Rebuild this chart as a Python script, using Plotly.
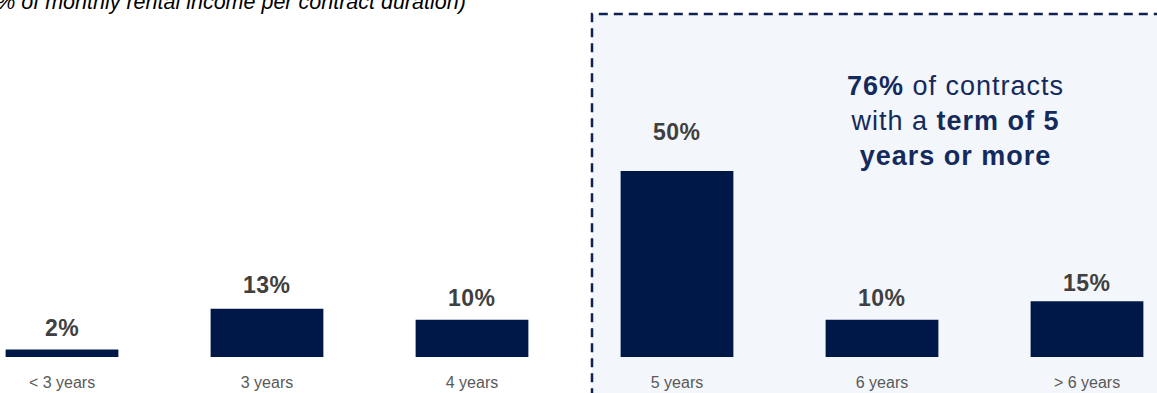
import plotly.graph_objects as go

categories = ["< 3 years", "3 years", "4 years", "5 years", "6 years", "> 6 years"]
values = [2, 13, 10, 50, 10, 15]
value_labels = ["2%", "13%", "10%", "50%", "10%", "15%"]
title_text = "(% of monthly rental income per contract duration)"
callout_lines = ["<b>76%</b> of contracts", "with a <b>term of 5</b>", "<b>years or more</b>"]

# label offsets above bar tops (pixels) - styling only
label_shift = [22, 24, 22, 39, 22, 18]

NAVY = "#001848"
FONT = "Liberation Sans, Arial, sans-serif"
W, H = 1157, 393
BOTTOM = 36
PLOT_H = H - BOTTOM

fig = go.Figure()
fig.add_trace(go.Bar(
    x=list(range(len(categories))), y=values,
    marker=dict(color=NAVY, line=dict(width=0)),
    width=0.55,
    hoverinfo="skip",
))

for i, (v, lab) in enumerate(zip(values, value_labels)):
    fig.add_annotation(x=i, y=v, xref="x", yref="y",
                       text='<span style="letter-spacing:0.5px"><b>' + lab + "</b></span>",
                       showarrow=False, yanchor="middle", yshift=label_shift[i],
                       font=dict(family=FONT, size=23, color="#404040"))

def px_x(p):
    return p / W

def px_y(p):
    return (PLOT_H - p) / PLOT_H

fig.add_shape(type="rect", xref="paper", yref="paper",
              x0=px_x(592), x1=1.05, y0=-0.3, y1=px_y(14),
              fillcolor="#F3F6FA", line=dict(color="#0D2251", width=2.5, dash="9px,6px"),
              layer="below")

fig.add_annotation(xref="paper", yref="paper", x=px_x(-13), y=px_y(2),
                   xanchor="left", yanchor="middle", showarrow=False,
                   text="<i>" + title_text + "</i>",
                   font=dict(family=FONT, size=21.5, color="#000000"))

callout_html = "<br>".join('<span style="letter-spacing:1px">' + l + "</span>" for l in callout_lines)
fig.add_annotation(xref="paper", yref="paper", x=px_x(955), y=px_y(121),
                   xanchor="center", yanchor="middle", showarrow=False,
                   text=callout_html, align="center",
                   font=dict(family=FONT, size=27, color="#152A5C"))

fig.update_layout(
    width=W, height=H,
    margin=dict(l=0, r=0, t=0, b=BOTTOM),
    paper_bgcolor="white", plot_bgcolor="rgba(0,0,0,0)",
    showlegend=False,
    xaxis=dict(range=[-62 / 205, (W - 62) / 205], tickmode="array",
               tickvals=list(range(len(categories))), ticktext=categories,
               showgrid=False, zeroline=False, showline=False, ticks="",
               ticklabelstandoff=14,
               tickfont=dict(family=FONT, size=16, color="#595959")),
    yaxis=dict(range=[0, PLOT_H / 3.72], visible=False),
)

fig.write_html("out.html", config={"displayModeBar": False},
               post_script="document.body.style.margin='0';")
